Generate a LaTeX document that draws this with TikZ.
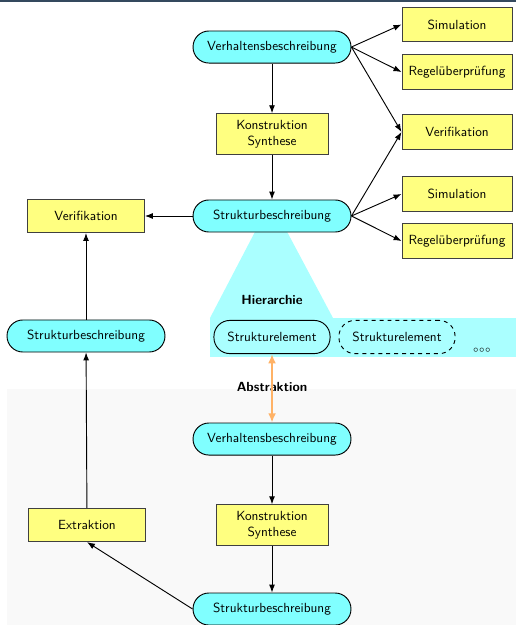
\documentclass[tikz,border=0pt]{standalone}
\usepackage{tikz}
\usetikzlibrary{shapes.geometric, arrows, arrows.meta, positioning}
\definecolor{balken}{HTML}{34495E}
\definecolor{hellcyan}{HTML}{80FFFF}
\definecolor{bandcyan}{HTML}{AAFFFF}
\definecolor{hellgelb}{HTML}{FFFF80}
\tikzstyle{beschreibung} = [rectangle, rounded corners=12pt, minimum width=4.19cm, minimum height=0.85cm, text centered, draw=black, line width=0.7pt, fill=hellcyan, font=\sffamily]
\tikzstyle{element} = [rectangle, rounded corners=12pt, minimum width=3.08cm, minimum height=0.88cm, text centered, draw=black, line width=0.7pt, font=\sffamily]
\tikzstyle{aufgabe} = [rectangle, minimum width=2.92cm, minimum height=0.92cm, text centered, draw=black!75, line width=0.7pt, fill=hellgelb, font=\sffamily]
\tikzstyle{titel} = [font=\sffamily\bfseries]
\tikzstyle{line} = [draw, line width=0.7pt, -{Latex[length=6pt, width=4.5pt]}]

\begin{document}
\begin{tikzpicture}[node distance=2cm]

\useasboundingbox (0,0) rectangle (13.687,-16.578);

% Hintergrund
\fill[balken] (0,0) rectangle (13.687,-0.06);
\fill[gray!5] (0.186,-10.318) rectangle (13.687,-16.578);
\fill[bandcyan] (5.570,-8.435) rectangle (13.687,-9.469);
\fill[bandcyan] (6.844,-5.995) -- (7.533,-5.995) -- (8.833,-8.435) -- (5.570,-8.435) -- cycle;

% Beschreibungen
% obere Ebene
\node (vbOben) [beschreibung] at (7.215,-1.247) {Verhaltensbeschreibung};
\node (konstOben) [aufgabe, below of=vbOben, yshift=-0.307cm, minimum width=2.97cm, minimum height=0.88cm] {
    \begin{tabular}{c}
        Konstruktion \\
        Synthese
    \end{tabular}
};
\node (sbMitte) [beschreibung, below of=konstOben, yshift=-0.175cm] {Strukturbeschreibung};
\node (simOben) [aufgabe, right of=vbOben, xshift=2.907cm, yshift=0.597cm] {Simulation};
\node (regelOben) [aufgabe, right of=vbOben, xshift=2.907cm, yshift=-0.663cm] {Regelüberprüfung};
\node (verRechts) [aufgabe, right of=vbOben, xshift=2.907cm, yshift=-2.254cm] {Verifikation};
\node (simMitte) [aufgabe, right of=sbMitte, xshift=2.907cm, yshift=0.583cm] {Simulation};
\node (regelMitte) [aufgabe, right of=sbMitte, xshift=2.907cm, yshift=-0.664cm] {Regelüberprüfung};
\node (verLinks) [aufgabe, left of=sbMitte, xshift=-2.934cm, minimum width=3.1cm, minimum height=0.88cm] {Verifikation};
\node (sbLinks) [beschreibung, below of=verLinks, yshift=-1.183cm] {Strukturbeschreibung};

% Hierarchie
\node (elem) [element, below of=sbMitte, yshift=-1.21cm] {Strukturelement};
\node (elemZwei) [element, dashed, right of=elem, xshift=1.316cm] {Strukturelement};
\node (punkte) [right of=elemZwei, xshift=0.25cm, yshift=-0.36cm, inner sep=0pt, font=\scriptsize] {$\circ\!\circ\!\circ$};
\node (hierarchie) [titel, above of=elem, yshift=-1.019cm] {Hierarchie};
\node (abstraktion) [titel, below of=elem, yshift=0.674cm] {Abstraktion};

% untere Ebene
\node (vbUnten) [beschreibung, below of=elem, yshift=-0.706cm] {Verhaltensbeschreibung};
\node (konstUnten) [aufgabe, below of=vbUnten, yshift=-0.281cm, minimum width=2.97cm, minimum height=0.88cm] {
    \begin{tabular}{c}
        Konstruktion \\
        Synthese
    \end{tabular}
};
\node (sbUnten) [beschreibung, below of=konstUnten, yshift=-0.228cm] {Strukturbeschreibung};
\node (extraktion) [aufgabe, left of=konstUnten, xshift=-2.907cm, minimum width=3.1cm, minimum height=0.88cm] {Extraktion};

% Verbindungen
\draw [line] (vbOben.east) -- (simOben.west);
\draw [line] (vbOben.east) -- (regelOben.west);
\draw [line] (vbOben.east) -- (verRechts.west);
\draw [line] (vbOben) -- (konstOben);
\draw [line] (konstOben) -- (sbMitte);
\draw [line] (sbMitte.east) -- (verRechts.west);
\draw [line] (sbMitte.east) -- (simMitte.west);
\draw [line] (sbMitte.east) -- (regelMitte.west);
\draw [line] (sbMitte) -- (verLinks);
\draw [line] (sbLinks) -- (verLinks);
\draw [line] (extraktion) -- (sbLinks);
\draw [line] (vbUnten) -- (konstUnten);
\draw [line] (konstUnten) -- (sbUnten);
\draw [line] (sbUnten.west) -- (extraktion.south);
\draw [{Latex[length=7pt, width=6pt]}-{Latex[length=7pt, width=6pt]}, orange!60, line width=2pt] (elem) -- (vbUnten);

\end{tikzpicture}
\end{document}
